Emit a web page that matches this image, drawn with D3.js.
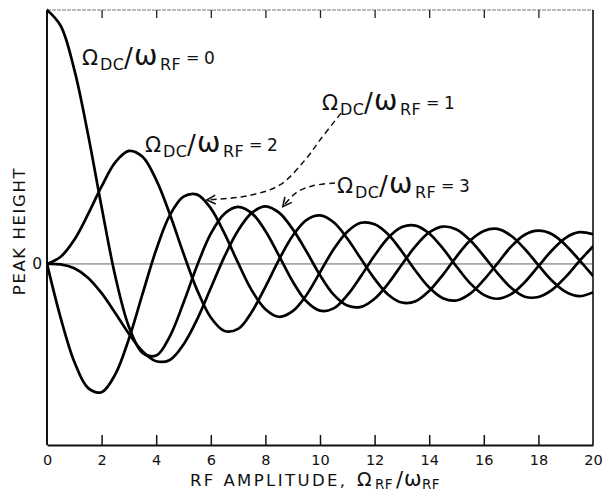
<!DOCTYPE html>
<html>
<head>
<meta charset="utf-8">
<script src="https://cdn.jsdelivr.net/npm/d3@7"></script>
<style>
  html, body { margin: 0; padding: 0; background: #fff; }
  svg { display: block; }
  text { font-family: "DejaVu Sans", "Liberation Sans", sans-serif; fill: #111; }
</style>
</head>
<body>
<svg id="chart" width="603" height="491"></svg>
<script>
// RF amplitude Ω_RF/ω_RF at which peak heights are sampled
const rfAmplitude = [0, 0.5, 1, 1.5, 2, 2.5, 3, 3.5, 4, 4.5, 5, 5.5, 6, 6.5, 7, 7.5, 8, 8.5, 9, 9.5,
  10, 10.5, 11, 11.5, 12, 12.5, 13, 13.5, 14, 14.5, 15, 15.5, 16, 16.5, 17, 17.5, 18, 18.5, 19, 19.5, 20];

// Peak heights for Ω_DC/ω_RF = 0, 1, 2, 3
const peakDc0 = [1.000, 0.938, 0.765, 0.512, 0.224, -0.048, -0.247, -0.350, -0.361, -0.285, -0.153, -0.006,
  0.119, 0.198, 0.225, 0.200, 0.130, 0.032, -0.069, -0.147, -0.184, -0.175, -0.123, -0.048, 0.033, 0.103,
  0.145, 0.151, 0.120, 0.061, -0.010, -0.076, -0.122, -0.137, -0.119, -0.072, -0.009, 0.054, 0.103, 0.125, 0.117];
const peakDc1 = [0, -0.212, -0.385, -0.488, -0.505, -0.435, -0.295, -0.118, 0.056, 0.192, 0.265, 0.273,
  0.219, 0.120, 0.004, -0.104, -0.178, -0.208, -0.186, -0.123, -0.033, 0.058, 0.127, 0.162, 0.156, 0.116,
  0.049, -0.027, -0.093, -0.135, -0.144, -0.117, -0.063, 0.002, 0.068, 0.115, 0.131, 0.117, 0.074, 0.015, -0.047];
const peakDc2 = [0, 0.028, 0.095, 0.195, 0.305, 0.400, 0.445, 0.422, 0.331, 0.196, 0.041, -0.103,
  -0.211, -0.264, -0.256, -0.189, -0.090, 0.017, 0.111, 0.173, 0.191, 0.164, 0.100, 0.020, -0.059, -0.121,
  -0.152, -0.147, -0.106, -0.043, 0.029, 0.092, 0.130, 0.138, 0.111, 0.059, -0.005, -0.066, -0.110, -0.127, -0.112];
const peakDc3 = [0, -0.002, -0.017, -0.054, -0.115, -0.193, -0.275, -0.344, -0.383, -0.378, -0.317, -0.218,
  -0.095, 0.029, 0.132, 0.201, 0.227, 0.202, 0.137, 0.050, -0.044, -0.121, -0.164, -0.169, -0.137, -0.077,
  -0.002, 0.070, 0.124, 0.147, 0.136, 0.093, 0.031, -0.036, -0.094, -0.129, -0.130, -0.102, -0.051, 0.011, 0.069];

const xTicks = [0, 2, 4, 6, 8, 10, 12, 14, 16, 18, 20];
const xTickLabels = ["0", "2", "4", "6", "8", "10", "12", "14", "16", "18", "20"];
const yTicks = [0];
const yTickLabels = ["0"];

// Curve labels, anchored in data coordinates (x, peak height)
const labelAnchors = [
  { ratio: "0", x: 1.28, y: 0.783 },
  { ratio: "1", x: 10.07, y: 0.606 },
  { ratio: "2", x: 3.59, y: 0.441 },
  { ratio: "3", x: 10.62, y: 0.280 }
];
// Dashed leader lines from labels "1" and "3" to their curves
const leaderDc1 = [[10.77, 0.594], [10.0, 0.488], [9.45, 0.409], [8.53, 0.311], [7.33, 0.268], [5.85, 0.252]];
const leaderDc3 = [[10.55, 0.319], [9.71, 0.307], [9.12, 0.280], [8.64, 0.226]];

const svg = d3.select("#chart");
const W = 603, H = 491;
svg.append("rect").attr("width", W).attr("height", H).attr("fill", "#fff");

const x = d3.scaleLinear().domain([0, 20]).range([47, 593]);
const y = d3.scaleLinear().domain([-0.713, 1]).range([445, 10]);

const defs = svg.append("defs");
defs.append("clipPath").attr("id", "plotClip")
  .append("rect").attr("x", x(0)).attr("y", y(1) - 2)
  .attr("width", x(20) - x(0)).attr("height", y(-0.713) - y(1) + 2);

// frame: top (light), right, left
svg.append("line").attr("x1", x(0)).attr("x2", x(20)).attr("y1", y(1)).attr("y2", y(1))
  .attr("stroke", "#777").attr("stroke-width", 1).attr("stroke-dasharray", "4,1");
svg.append("line").attr("x1", x(20)).attr("x2", x(20)).attr("y1", y(1)).attr("y2", y(-0.713))
  .attr("stroke", "#111").attr("stroke-width", 1.6);
svg.append("line").attr("x1", x(0)).attr("x2", x(0)).attr("y1", y(1)).attr("y2", y(-0.713))
  .attr("stroke", "#111").attr("stroke-width", 2);

// zero reference line
svg.append("line").attr("x1", x(0)).attr("x2", x(20)).attr("y1", y(0)).attr("y2", y(0))
  .attr("stroke", "#666").attr("stroke-width", 1);

// bottom axis with inward ticks
const bottomAxis = d3.axisBottom(x).tickValues(xTicks)
  .tickFormat((d, i) => xTickLabels[i]).tickSize(-10).tickSizeOuter(0).tickPadding(10);
const gB = svg.append("g").attr("transform", `translate(0,${y(-0.713)})`).call(bottomAxis);
gB.select(".domain").attr("stroke", "#111").attr("stroke-width", 2);
gB.selectAll(".tick line").attr("stroke", "#111").attr("stroke-width", 1.5);
gB.selectAll(".tick text").attr("font-size", 14.5).attr("fill", "#111")
  .attr("font-family", "DejaVu Sans, sans-serif");
gB.selectAll(".tick").filter(d => d === 0 || d === 20).select("line").remove();

// top axis: inward ticks only
const topAxis = d3.axisTop(x).tickValues(xTicks.filter(d => d > 0 && d < 20))
  .tickFormat("").tickSize(-8).tickSizeOuter(0);
const gT = svg.append("g").attr("transform", `translate(0,${y(1)})`).call(topAxis);
gT.select(".domain").remove();
gT.selectAll(".tick line").attr("stroke", "#222").attr("stroke-width", 1.3);

// left axis: only the zero label
const leftAxis = d3.axisLeft(y).tickValues(yTicks).tickFormat((d, i) => yTickLabels[i])
  .tickSize(0).tickPadding(5);
const gL = svg.append("g").attr("transform", `translate(${x(0)},0)`).call(leftAxis);
gL.select(".domain").remove();
gL.selectAll(".tick text").attr("font-size", 15.5).attr("fill", "#111")
  .attr("font-family", "DejaVu Sans, sans-serif");

// curves
const series = [peakDc0, peakDc1, peakDc2, peakDc3];
const line = d3.line()
  .x((d, i) => x(rfAmplitude[i]))
  .y(d => y(d))
  .curve(d3.curveCatmullRom.alpha(0.5));
svg.append("g").attr("clip-path", "url(#plotClip)")
  .selectAll("path").data(series).join("path")
  .attr("d", line)
  .attr("fill", "none").attr("stroke", "#000").attr("stroke-width", 2.7)
  .attr("stroke-linejoin", "round").attr("stroke-linecap", "round");

// arrowhead marker
defs.append("marker")
  .attr("id", "openArrow").attr("viewBox", "0 0 10 10")
  .attr("refX", 9).attr("refY", 5).attr("markerWidth", 11).attr("markerHeight", 11)
  .attr("markerUnits", "userSpaceOnUse").attr("orient", "auto")
  .append("path").attr("d", "M1,1 L9,5 L1,9")
  .attr("fill", "none").attr("stroke", "#111").attr("stroke-width", 1.5);

const leader = d3.line().x(d => x(d[0])).y(d => y(d[1])).curve(d3.curveCatmullRom.alpha(0.5));
[leaderDc1, leaderDc3].forEach(pts => {
  svg.append("path").attr("d", leader(pts))
    .attr("fill", "none").attr("stroke", "#111").attr("stroke-width", 1.5)
    .attr("stroke-dasharray", "6,4").attr("marker-end", "url(#openArrow)");
});

// curve labels: Ω_DC / ω_RF = n
function ratioLabel(a) {
  const x0 = x(a.x), b = y(a.y);
  const g = svg.append("g");
  const parts = [
    { t: "Ω", dx: 0, dy: 0, size: 21 },
    { t: "DC", dx: 18, dy: 5, size: 16, ls: 0.5 },
    { t: "/", dx: 42, dy: 2, size: 26 },
    { t: "ω", dx: 52, dy: 0, size: 28 },
    { t: "RF", dx: 78, dy: 5, size: 16, ls: 0.5 },
    { t: "=", dx: 104, dy: -2, size: 16 },
    { t: a.ratio, dx: 122, dy: -1, size: 17 }
  ];
  parts.forEach(p => {
    g.append("text").attr("x", x0 + p.dx).attr("y", b + p.dy)
      .attr("font-size", p.size).attr("letter-spacing", p.ls || 0).text(p.t);
  });
}
labelAnchors.forEach(ratioLabel);

// axis titles
const xt = svg.append("g");
xt.append("text").attr("x", 190).attr("y", 486).attr("font-size", 16.5)
  .attr("letter-spacing", 2.4).text("RF AMPLITUDE,");
xt.append("text").attr("x", 357).attr("y", 486).attr("font-size", 19).text("Ω");
xt.append("text").attr("x", 375).attr("y", 489).attr("font-size", 13.5).attr("letter-spacing", 0.3).text("RF");
xt.append("text").attr("x", 396).attr("y", 487).attr("font-size", 21).text("/");
xt.append("text").attr("x", 404).attr("y", 486).attr("font-size", 21).text("ω");
xt.append("text").attr("x", 422).attr("y", 489).attr("font-size", 13.5).attr("letter-spacing", 0.3).text("RF");

svg.append("text")
  .attr("transform", `translate(25,${231}) rotate(-90)`)
  .attr("text-anchor", "middle").attr("font-size", 16.5).attr("letter-spacing", 1.6)
  .text("PEAK HEIGHT");
</script>
</body>
</html>
